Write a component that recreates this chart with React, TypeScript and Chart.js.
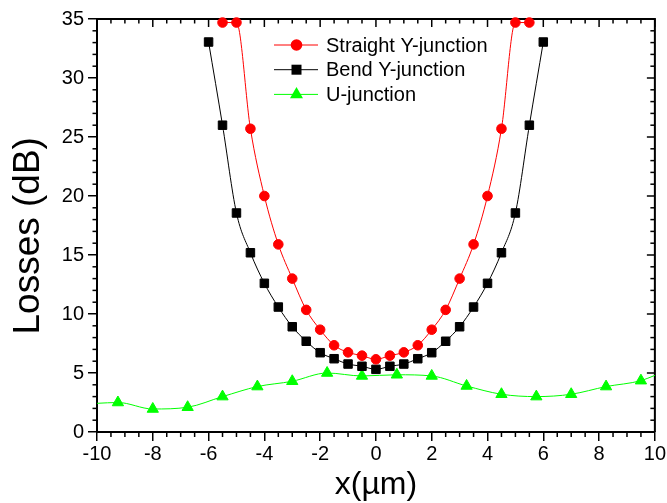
import React, { useEffect, useRef } from 'react';
import { Chart, registerables } from 'chart.js';

Chart.register(...registerables);

// ---- data ----
const straightX = [-5.5, -5, -4.5, -4, -3.5, -3, -2.5, -2, -1.5, -1, -0.5, 0, 0.5, 1, 1.5, 2, 2.5, 3, 3.5, 4, 4.5, 5, 5.5];
const straightY = [34.7, 34.7, 25.7, 20.0, 15.9, 13.0, 10.35, 8.67, 7.35, 6.75, 6.47, 6.16, 6.47, 6.75, 7.35, 8.67, 10.35, 13.0, 15.9, 20.0, 25.7, 34.7, 34.7];

const bendX = [-6, -5.5, -5, -4.5, -4, -3.5, -3, -2.5, -2, -1.5, -1, -0.5, 0, 0.5, 1, 1.5, 2, 2.5, 3, 3.5, 4, 4.5, 5, 5.5, 6];
const bendY = [33.05, 26.0, 18.56, 15.19, 12.6, 10.59, 8.92, 7.69, 6.72, 6.21, 5.76, 5.57, 5.31, 5.57, 5.76, 6.21, 6.72, 7.69, 8.92, 10.59, 12.6, 15.19, 18.56, 26.0, 33.05];

const uX = [-10, -9.25, -8, -6.75, -5.5, -4.25, -3, -1.75, -0.5, 0.75, 2, 3.25, 4.5, 5.75, 7, 8.25, 9.5, 10];
const uY = [2.43, 2.5, 1.95, 2.1, 3.0, 3.85, 4.3, 5.0, 4.75, 4.85, 4.75, 3.9, 3.2, 3.0, 3.2, 3.85, 4.35, 4.8];
const uMarker = [false, true, true, true, true, true, true, true, true, true, true, true, true, true, true, true, true, false];

const seriesLabels = ['Straight Y-junction', 'Bend Y-junction', 'U-junction'];
const xMin = -10, xMax = 10, xMajor = 2, xMinor = 0.5;
const yMin = 0, yMax = 35, yMajor = 5, yMinor = 1;

const FONT = '"Liberation Sans", Arial, Helvetica, sans-serif';

const toXY = (xs: number[], ys: number[]) => xs.map((x, i) => ({ x, y: ys[i] }));

export default function App() {
  const ref = useRef<HTMLCanvasElement>(null);

  useEffect(() => {
    const canvas = ref.current!;

    const framePlugin = {
      id: 'frameTicks',
      beforeDatasetsDraw(chart: any) {
        const { ctx, chartArea: a, scales } = chart;
        const xs = scales.x, ys = scales.y;
        ctx.save();
        ctx.strokeStyle = '#000';
        ctx.lineWidth = 2;
        ctx.beginPath();
        ctx.moveTo(a.left, a.top);
        ctx.lineTo(a.right, a.top);
        ctx.lineTo(a.right, a.bottom);
        ctx.stroke();
        ctx.lineWidth = 1.5;
        const seg = (x1: number, y1: number, x2: number, y2: number) => {
          ctx.beginPath(); ctx.moveTo(x1, y1); ctx.lineTo(x2, y2); ctx.stroke();
        };
        const nx = Math.round((xMax - xMin) / xMinor);
        for (let i = 0; i <= nx; i++) {
          const v = xMin + i * xMinor;
          const px = xs.getPixelForValue(v);
          const major = Math.abs(Math.round(v / xMajor) * xMajor - v) < 1e-9;
          seg(px, a.top, px, a.top + (major ? 8 : 4.5));
          if (!major) seg(px, a.bottom, px, a.bottom + 5);
        }
        const ny = Math.round((yMax - yMin) / yMinor);
        for (let i = 0; i <= ny; i++) {
          const v = yMin + i * yMinor;
          const py = ys.getPixelForValue(v);
          const major = Math.abs(Math.round(v / yMajor) * yMajor - v) < 1e-9;
          seg(a.right, py, a.right - (major ? 8 : 4.5), py);
          if (!major) seg(a.left, py, a.left - 4.5, py);
        }
        ctx.restore();
      },
    };

    const legendPlugin = {
      id: 'insideLegend',
      afterDraw(chart: any) {
        const { ctx, chartArea: a } = chart;
        ctx.save();
        chart.data.datasets.forEach((ds: any, i: number) => {
          const y = a.top + 26 + i * 24.7;
          const x0 = a.left + 177, x1 = a.left + 221, xm = a.left + 199.5;
          ctx.strokeStyle = ds.borderColor;
          ctx.fillStyle = ds.borderColor;
          ctx.lineWidth = 1;
          ctx.beginPath(); ctx.moveTo(x0, y); ctx.lineTo(x1, y); ctx.stroke();
          ctx.beginPath();
          if (ds.pointStyle === 'circle') {
            ctx.arc(xm, y, 5.8, 0, Math.PI * 2);
          } else if (ds.pointStyle === 'rect') {
            ctx.rect(xm - 5, y - 5, 10, 10);
          } else {
            const r = 7.5;
            ctx.moveTo(xm, y - r);
            ctx.lineTo(xm + r * Math.sin(2 * Math.PI / 3), y - r * Math.cos(2 * Math.PI / 3));
            ctx.lineTo(xm + r * Math.sin(4 * Math.PI / 3), y - r * Math.cos(4 * Math.PI / 3));
            ctx.closePath();
          }
          ctx.fill();
          ctx.fillStyle = '#000';
          ctx.font = `20px ${FONT}`;
          ctx.textBaseline = 'middle';
          ctx.textAlign = 'left';
          ctx.fillText(ds.label, a.left + 229, y + 1);
        });
        ctx.restore();
      },
    };

    const chart = new Chart(canvas, {
      type: 'line',
      data: {
        datasets: [
          {
            label: seriesLabels[0],
            data: toXY(straightX, straightY),
            borderColor: '#ff0000',
            backgroundColor: '#ff0000',
            pointBackgroundColor: '#ff0000',
            pointBorderColor: '#ff0000',
            pointStyle: 'circle',
            pointRadius: 4.8,
            pointBorderWidth: 1,
            borderWidth: 1,
            cubicInterpolationMode: 'monotone',
            clip: false,
          },
          {
            label: seriesLabels[1],
            data: toXY(bendX, bendY),
            borderColor: '#000000',
            backgroundColor: '#000000',
            pointBackgroundColor: '#000000',
            pointBorderColor: '#000000',
            pointStyle: 'rect',
            pointRadius: 6,
            pointBorderWidth: 1,
            borderWidth: 1,
            cubicInterpolationMode: 'monotone',
            clip: false,
          },
          {
            label: seriesLabels[2],
            data: toXY(uX, uY),
            borderColor: '#00ff00',
            backgroundColor: '#00ff00',
            pointBackgroundColor: '#00ff00',
            pointBorderColor: '#00ff00',
            pointStyle: 'triangle',
            pointRadius: uMarker.map((m) => (m ? 6.5 : 0)),
            pointBorderWidth: 1,
            borderWidth: 1,
            cubicInterpolationMode: 'monotone',
            clip: false,
          },
        ] as any,
      },
      options: {
        responsive: false,
        animation: false,
        events: [],
        layout: { padding: { left: 0, right: 10, top: 19, bottom: 0 } },
        plugins: {
          legend: { display: false },
          tooltip: { enabled: false },
        },
        scales: {
          x: {
            type: 'linear',
            min: xMin,
            max: xMax,
            afterFit: (s: any) => { s.height = 71; },
            ticks: {
              stepSize: xMajor,
              autoSkip: false,
              maxRotation: 0,
              padding: 1,
              color: '#000',
              font: { family: FONT, size: 20 },
              callback: (v: any) => String(v),
            },
            grid: {
              display: true,
              drawOnChartArea: false,
              drawTicks: true,
              tickLength: 9,
              color: '#000',
              lineWidth: 1.5,
            },
            border: { display: true, color: '#000', width: 2 },
            title: {
              display: true,
              text: 'x(µm)',
              color: '#000',
              font: { family: FONT, size: 32, lineHeight: 1.1 },
              padding: { top: 0, bottom: 0 },
            },
          },
          y: {
            type: 'linear',
            min: yMin,
            max: yMax,
            afterFit: (s: any) => { s.width = 97; },
            ticks: {
              stepSize: yMajor,
              padding: 4,
              color: '#000',
              font: { family: FONT, size: 20 },
              callback: (v: any) => String(v),
            },
            grid: {
              display: true,
              drawOnChartArea: false,
              drawTicks: true,
              tickLength: 9,
              color: '#000',
              lineWidth: 1.5,
            },
            border: { display: true, color: '#000', width: 2 },
            title: {
              display: true,
              text: 'Losses (dB)  ',
              color: '#000',
              font: { family: FONT, size: 37, lineHeight: 1.2 },
              padding: { top: 7, bottom: 0 },
            },
          },
        },
      } as any,
      plugins: [framePlugin, legendPlugin],
    });

    return () => chart.destroy();
  }, []);

  return (
    <div style={{ position: 'fixed', left: 0, top: 0, width: 667, height: 503, background: '#fff' }}>
      <canvas ref={ref} width={667} height={503} style={{ display: 'block', width: 667, height: 503 }} />
    </div>
  );
}
